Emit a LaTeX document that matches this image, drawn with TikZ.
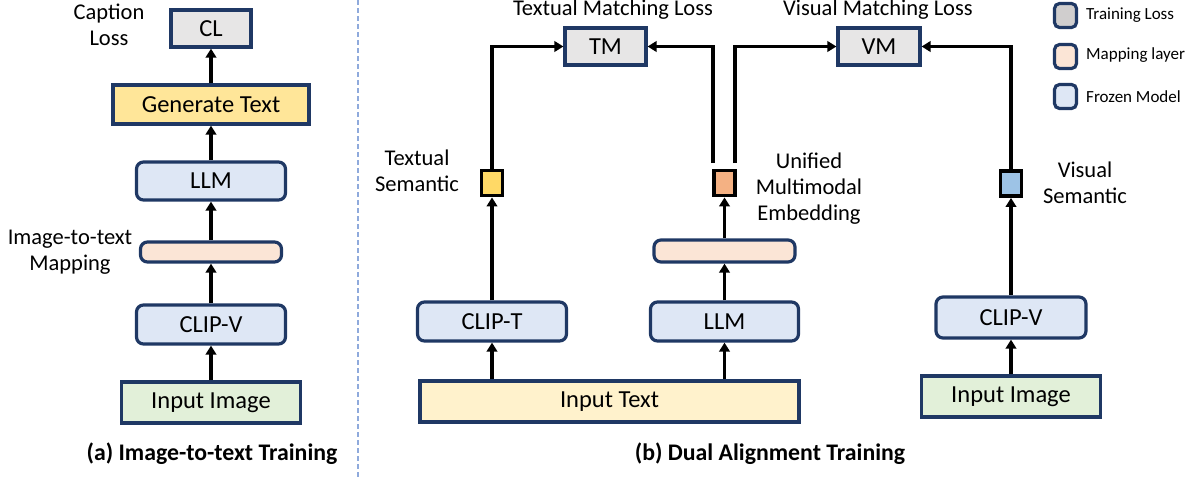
\documentclass[tikz,border=0pt]{standalone}
\usepackage{fontspec}
\setmainfont{Carlito}
\usetikzlibrary{arrows.meta}
\definecolor{navy}{HTML}{1F3864}
\definecolor{lossgray}{HTML}{E7E6E6}
\definecolor{leggray}{HTML}{D0CECE}
\definecolor{genyel}{HTML}{FFE699}
\definecolor{intext}{HTML}{FFF2CC}
\definecolor{inimg}{HTML}{E2F0D9}
\definecolor{frozen}{HTML}{DEE7F5}
\definecolor{mapc}{HTML}{FBE5D6}
\definecolor{tsem}{HTML}{FFD966}
\definecolor{usem}{HTML}{F4B183}
\definecolor{vsem}{HTML}{9DC3E6}
\definecolor{sepcol}{HTML}{8FAADC}
\begin{document}
\begin{tikzpicture}[x=1pt,y=-1pt,
  box/.style={draw=navy, line width=3.2pt, inner sep=0pt, font=\fontsize{24.5}{26}\selectfont},
  rbox/.style={box, rounded corners=7pt},
  sem/.style={draw=black, line width=3.8pt, inner sep=0pt, minimum width=21pt, minimum height=25pt},
  lbl/.style={inner sep=0pt, align=center, font=\fontsize{22.5}{26}\selectfont},
  captext/.style={inner sep=0pt, font=\fontsize{23.8}{26}\selectfont\bfseries},
  legsq/.style={draw=navy, line width=3.2pt, rounded corners=5pt, inner sep=0pt, minimum width=22pt, minimum height=24pt},
  leglbl/.style={inner sep=0pt, anchor=west, font=\fontsize{17}{20}\selectfont},
  arr/.style={draw=black, line width=3.3pt, -{Triangle[length=9pt,width=10.5pt]}}]
\useasboundingbox (0,0) rectangle (1199,477);
% ---------- panel (a)
\node[box, fill=lossgray, minimum width=80pt, minimum height=37pt] (cl) at (211,28.5) {CL};
\node[box, fill=genyel, minimum width=196pt, minimum height=39pt] (gen) at (211,104.5) {Generate Text};
\node[rbox, fill=frozen, minimum width=149pt, minimum height=38pt] (llma) at (211,181) {LLM};
\node[rbox, fill=mapc, minimum width=141pt, minimum height=20pt] (mapa) at (211,252) {};
\node[rbox, fill=frozen, minimum width=149pt, minimum height=39pt] (clipva) at (211,324.5) {CLIP-V};
\node[box, fill=inimg, minimum width=179pt, minimum height=41pt] (inimga) at (211,402.5) {Input Image};
\node[lbl] (caplossl) at (109,25) {Caption\\Loss};
\node[lbl] (mapl) at (70,252) {Image-to-text\\Mapping};
\node[captext] (capa) at (212,454) {(a) Image-to-text Training};
\draw[arr] (gen.north) -- (cl.south);
\draw[arr] (llma.north) -- (gen.south);
\draw[arr] (mapa.north) -- (llma.south);
\draw[arr] (clipva.north) -- (mapa.south);
\draw[arr] (inimga.north) -- (clipva.south);
% separator
\coordinate (septop) at (358,0);
\coordinate (sepbot) at (358,477);
\draw[sepcol, line width=1.6pt, dash pattern=on 5pt off 3pt] (septop) -- (sepbot);
% ---------- panel (b)
\node[box, fill=lossgray, minimum width=81pt, minimum height=37pt] (tm) at (605.5,46.5) {TM};
\node[box, fill=lossgray, minimum width=82pt, minimum height=37pt] (vm) at (879,46.5) {VM};
\node[lbl] (tml) at (613,10) {Textual Matching Loss};
\node[lbl] (vml) at (878,10) {Visual Matching Loss};
\node[sem, fill=tsem] (ts) at (492,183) {};
\node[sem, fill=usem] (us) at (724.5,183) {};
\node[sem, fill=vsem] (vs) at (1011,183.5) {};
\node[lbl] (tsl) at (417,171) {Textual\\Semantic};
\node[lbl] (usl) at (809,189) {Unified\\Multimodal\\Embedding};
\node[lbl] (vsl) at (1085,183) {Visual\\Semantic};
\node[rbox, fill=mapc, minimum width=141pt, minimum height=22pt] (mapb) at (724.5,251) {};
\node[rbox, fill=frozen, minimum width=148pt, minimum height=39pt] (llmb) at (724.5,321.5) {LLM};
\node[rbox, fill=frozen, minimum width=149pt, minimum height=39pt] (clipt) at (492,321.5) {CLIP-T};
\node[box, fill=intext, minimum width=379pt, minimum height=41pt] (intxt) at (609.5,401.5) {Input Text};
\node[rbox, fill=frozen, minimum width=150pt, minimum height=41pt] (clipvb) at (1011,317.5) {CLIP-V};
\node[box, fill=inimg, minimum width=179pt, minimum height=41pt] (inimgb) at (1011,396.5) {Input Image};
\node[captext] (capb) at (770,454) {(b) Dual Alignment Training};
\coordinate (u1) at (713,163);
\coordinate (u2) at (735,163);
\draw[arr] (ts.north) |- (tm.west);
\draw[arr] (u1) |- (tm.east);
\draw[arr] (u2) |- (vm.west);
\draw[arr] (vs.north) |- (vm.east);
\draw[arr] (clipt.north) -- (ts.south);
\draw[arr] (mapb.north) -- (us.south);
\draw[arr] (llmb.north) -- (mapb.south);
\draw[arr] (clipt.south |- intxt.north) -- (clipt.south);
\draw[arr] (llmb.south |- intxt.north) -- (llmb.south);
\draw[arr] (inimgb.north) -- (clipvb.south);
\draw[arr] (clipvb.north) -- (vs.south);
% legend
\node[legsq, fill=leggray] (lg1) at (1065.5,15.5) {};
\node[legsq, fill=mapc] (lg2) at (1065.5,56.5) {};
\node[legsq, fill=frozen] (lg3) at (1065.5,96.5) {};
\node[leglbl] (lg1l) at (1086,15) {Training Loss};
\node[leglbl] (lg2l) at (1086,55) {Mapping layer};
\node[leglbl] (lg3l) at (1086,97) {Frozen Model};
\end{tikzpicture}
\end{document}
